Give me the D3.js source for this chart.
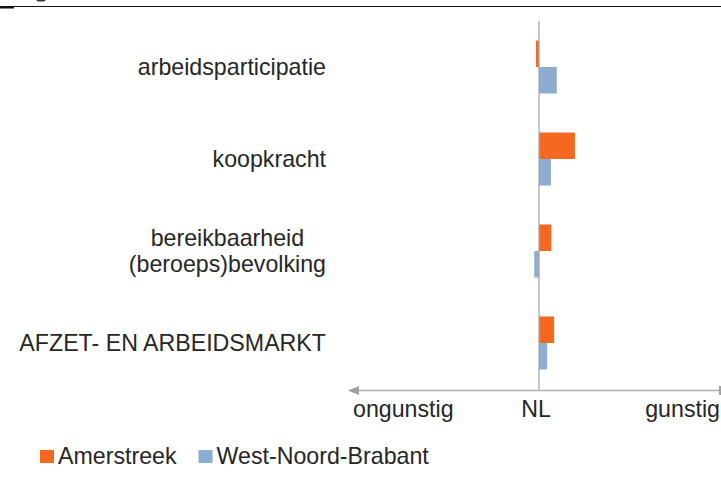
<!DOCTYPE html>
<html>
<head>
<meta charset="utf-8">
<script src="https://cdn.jsdelivr.net/npm/d3@7"></script>
<style>
  body { margin: 0; background: #fff; }
  text { font-family: "Liberation Sans", Arial, sans-serif; fill: #262626; }
</style>
</head>
<body>
<div id="chart"></div>
<script>
// categories top to bottom, values relative to NL (0)
const categories = ["arbeidsparticipatie", "koopkracht", "bereikbaarheid\n(beroeps)bevolking", "AFZET- EN ARBEIDSMARKT"];
const series = ["Amerstreek", "West-Noord-Brabant"];
const amerstreek = [-0.016, 0.19, 0.065, 0.08];
const westNoordBrabant = [0.094, 0.063, -0.025, 0.043];
const axisLabels = ["ongunstig", "NL", "gunstig"];

const WIDTH = 721, HEIGHT = 477;
const FONT = "23.2px";
const LABEL_RIGHT = 326;
const colors = { "Amerstreek": "#f4691f", "West-Noord-Brabant": "#8cadd1" };

const svg = d3.select("#chart").append("svg")
  .attr("width", WIDTH)
  .attr("height", HEIGHT);

// header rule (cut-off figure header)
svg.append("line")
  .attr("x1", 0).attr("x2", WIDTH).attr("y1", 6.5).attr("y2", 6.5)
  .attr("stroke", "#111").attr("stroke-width", 1.2);
svg.append("rect").attr("x", 0).attr("y", 7).attr("width", 14).attr("height", 1.5).attr("fill", "#111");
svg.append("ellipse").attr("cx", 41).attr("cy", 0).attr("rx", 4.5).attr("ry", 1.6).attr("fill", "#333");

const x = d3.scaleLinear().domain([-1, 1]).range([350, 728]);
const y = d3.scaleBand().domain(categories).range([21, 389])
  .paddingInner(0.424).paddingOuter(0.212);
const ySub = d3.scaleBand().domain(series).range([0, y.bandwidth()]);

const rows = categories.map((c, i) => ({ cat: c, values: [amerstreek[i], westNoordBrabant[i]] }));

// bars
const g = svg.append("g");
rows.forEach(r => {
  series.forEach((s, j) => {
    const v = r.values[j];
    g.append("rect")
      .attr("x", x(Math.min(0, v)))
      .attr("y", y(r.cat) + ySub(s))
      .attr("width", Math.abs(x(v) - x(0)))
      .attr("height", ySub.bandwidth())
      .attr("fill", colors[s]);
  });
});

// zero line
svg.append("line")
  .attr("x1", x(0)).attr("x2", x(0)).attr("y1", 21).attr("y2", 390.5)
  .attr("stroke", "#a6a6a6").attr("stroke-width", 1.3);

// horizontal arrow axis
svg.append("line")
  .attr("x1", x(-1) + 6).attr("x2", WIDTH).attr("y1", 390.5).attr("y2", 390.5)
  .attr("stroke", "#b0b0b0").attr("stroke-width", 1.3);
svg.append("path")
  .attr("d", `M${x(-1) - 2},390.5 L${x(-1) + 9},386 L${x(-1) + 9},395 Z`)
  .attr("fill", "#a0a0a0");
svg.append("rect").attr("x", 719).attr("y", 386).attr("width", 2).attr("height", 9).attr("fill", "#a0a0a0");

// category labels (multi-line labels are centred within their block, block right-aligned)
const labels = svg.append("g").attr("font-size", FONT).attr("text-anchor", "middle");
categories.forEach(c => {
  const lines = c.split("\n");
  const cy = y(c) + y.bandwidth() / 2;
  const t = labels.append("text").attr("y", cy - (lines.length - 1) * 13 + 8);
  const spans = lines.map((l, k) =>
    t.append("tspan").attr("dy", k === 0 ? 0 : 26).text(l));
  const maxW = d3.max(spans, s => s.node().getComputedTextLength());
  spans.forEach(s => s.attr("x", LABEL_RIGHT - maxW / 2));
});

// axis end labels
const axisText = svg.append("g").attr("font-size", FONT);
axisText.append("text").attr("x", x(-1) + 3).attr("y", 417).text(axisLabels[0]);
axisText.append("text").attr("x", x(0) - 3).attr("y", 417).attr("text-anchor", "middle").text(axisLabels[1]);
axisText.append("text").attr("x", 720).attr("y", 417).attr("text-anchor", "end").text(axisLabels[2]);

// legend
const legend = svg.append("g").attr("font-size", FONT);
let lx = 40;
series.forEach(s => {
  legend.append("rect").attr("x", lx).attr("y", 450).attr("width", 14).attr("height", 13).attr("fill", colors[s]);
  const t = legend.append("text").attr("x", lx + 18).attr("y", 463.5).text(s);
  lx += 18 + t.node().getComputedTextLength() + 22;
});
</script>
</body>
</html>
